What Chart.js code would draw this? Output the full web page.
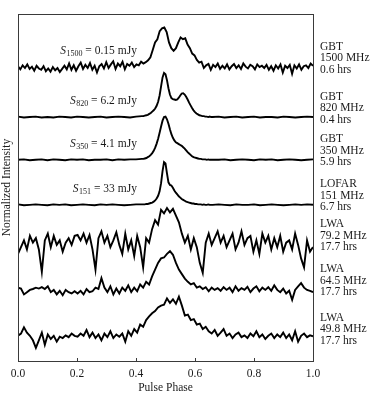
<!DOCTYPE html>
<html>
<head>
<meta charset="utf-8">
<script src="https://cdn.jsdelivr.net/npm/chart.js@4.4.1/dist/chart.umd.min.js"></script>
<style>
html,body{margin:0;padding:0;background:#fff;}
#wrap{width:374px;height:402px;position:relative;}
</style>
</head>
<body>
<div id="wrap"><canvas id="c" width="374" height="402"></canvas></div>
<script>
// ---------- DATA ----------
const telescopes = ['GBT', 'GBT', 'GBT', 'LOFAR', 'LWA', 'LWA', 'LWA'];
const frequencies = ['1500 MHz', '820 MHz', '350 MHz', '151 MHz', '79.2 MHz', '64.5 MHz', '49.8 MHz'];
const durations = ['0.6 hrs', '0.4 hrs', '5.9 hrs', '6.7 hrs', '17.7 hrs', '17.7 hrs', '17.7 hrs'];
const fluxSubscripts = ['1500', '820', '350', '151'];
const fluxValues = ['0.15 mJy', '6.2 mJy', '4.1 mJy', '33 mJy'];
// stacking offset of each profile (normalized intensity units)
const offsets = [6.53, 5.42, 4.47, 3.47, 2.58, 1.58, 0.51];
const xTickValues = [0.0, 0.2, 0.4, 0.6, 0.8, 1.0];

// GBT 1500 MHz (128 bins, evenly spaced in phase)
const gbt1500 = [
 0.02,-0.05,0.04,-0.02,0.06,-0.04,0.01,-0.08,0.03,-0.03,
 -0.06,0.02,-0.09,-0.03,-0.1,0.0,-0.07,-0.02,-0.11,-0.04,
 0.03,-0.05,0.08,-0.06,0.04,-0.08,0.02,0.1,-0.04,0.05,
 -0.02,0.09,-0.06,0.03,-0.12,0.02,0.07,-0.03,0.11,-0.02,
 0.06,0.13,-0.04,0.08,0.02,0.12,-0.05,0.07,0.03,0.1,
 0.0,0.06,0.04,0.12,0.08,0.11,0.15,0.22,
 0.38,0.55,0.62,0.8,0.86,0.88,0.78,0.55,0.42,0.36,
 0.42,0.55,0.66,0.62,0.64,0.5,0.42,0.3,0.26,0.16,
 0.1,0.12,-0.02,0.04,0.07,-0.06,0.05,0.0,0.08,-0.04,
 0.03,-0.03,0.06,-0.05,0.02,0.07,-0.02,0.04,-0.04,0.08,
 0.01,-0.03,0.05,0.02,-0.05,0.06,0.0,0.03,-0.02,0.05,
 -0.06,0.02,-0.08,0.04,-0.03,0.06,-0.12,0.03,-0.02,0.05,
 -0.15,0.04,-0.03,0.06,-0.06,0.02,0.04,-0.02,0.08,0.03
];

// smooth profiles share this phase grid: coarse wings, fine near the pulse
const phaseSmooth = [
 0.00,0.02,0.04,0.06,0.08,0.10,0.12,0.14,0.16,0.18,0.20,0.22,0.24,0.26,0.28,0.30,0.32,0.34,0.36,0.38,0.40,0.42,
 0.425,0.43,0.435,0.44,0.445,0.45,0.455,0.46,0.465,0.47,0.475,0.48,0.485,0.49,0.495,0.50,
 0.505,0.51,0.515,0.52,0.525,0.53,0.535,0.54,0.545,0.55,0.555,0.56,0.565,0.57,0.575,0.58,
 0.585,0.59,0.595,0.60,0.605,0.61,0.615,0.62,0.625,0.63,0.635,0.64,0.645,0.65,0.655,0.66,
 0.68,0.70,0.72,0.74,0.76,0.78,0.80,0.82,0.84,0.86,0.88,0.90,0.92,0.94,0.96,0.98,1.00
];
const gbt820 = [
 0.01,-0.01,0.0,0.01,-0.01,0.0,-0.01,0.01,0.0,-0.01,0.01,0.0,-0.01,0.0,0.01,-0.01,0.0,0.01,0.0,-0.01,0.01,0.02,
 0.02,0.03,0.04,0.05,0.07,0.09,0.12,0.15,0.19,0.25,0.34,0.48,0.68,0.88,0.98,0.95,
 0.82,0.64,0.5,0.42,0.4,0.39,0.38,0.39,0.43,0.48,0.52,0.53,0.5,0.45,0.39,0.32,
 0.26,0.2,0.15,0.11,0.08,0.06,0.04,0.03,0.02,0.02,0.01,0.01,0.0,0.01,0.0,0.0,
 0.01,-0.01,0.0,0.01,-0.01,0.0,0.01,-0.01,0.0,0.0,-0.01,0.01,0.0,-0.01,0.0,0.01,0.0
];
const gbt350 = [
 0.0,0.01,-0.01,0.0,0.01,-0.01,0.01,0.0,-0.01,0.01,0.0,0.01,-0.01,0.0,0.0,0.01,-0.01,0.01,0.0,0.01,0.01,0.02,
 0.02,0.03,0.04,0.06,0.08,0.11,0.15,0.2,0.27,0.36,0.47,0.6,0.74,0.87,0.95,0.96,
 0.9,0.8,0.68,0.57,0.49,0.43,0.39,0.37,0.35,0.33,0.31,0.28,0.25,0.21,0.17,0.14,
 0.11,0.08,0.06,0.05,0.04,0.03,0.02,0.02,0.01,0.01,0.01,0.0,0.01,0.0,0.0,0.0,
 0.0,0.01,-0.01,0.0,0.01,0.0,-0.01,0.01,0.0,0.01,-0.01,0.0,0.01,0.0,-0.01,0.0,0.01
];
const lofar151 = [
 0.01,-0.01,0.0,0.01,0.0,-0.01,0.01,0.0,0.01,-0.01,0.0,0.01,0.0,-0.01,0.01,0.0,0.01,0.0,-0.01,0.0,0.01,0.01,
 0.01,0.01,0.02,0.02,0.03,0.04,0.05,0.07,0.1,0.14,0.2,0.3,0.48,0.75,0.95,0.92,
 0.7,0.5,0.44,0.43,0.38,0.32,0.27,0.23,0.19,0.16,0.13,0.11,0.09,0.07,0.06,0.05,
 0.04,0.03,0.03,0.02,0.02,0.01,0.01,0.01,0.0,0.01,0.0,0.0,0.01,0.0,0.0,0.0,
 0.01,0.0,-0.01,0.01,0.0,0.0,0.01,-0.01,0.0,0.01,0.0,-0.01,0.0,0.01,0.0,0.01,0.0
];

// LWA profiles (100 bins, evenly spaced in phase)
const lwa79 = [
 -0.2,-0.05,0.1,-0.1,0.2,0.05,0.15,-0.1,-0.6,0.1,
 0.25,-0.05,0.2,0.0,0.1,-0.15,0.05,0.15,0.0,0.2,
 0.22,0.1,0.25,0.05,0.22,-0.1,-0.55,0.15,0.3,0.05,
 0.2,-0.05,0.1,0.28,0.0,-0.2,0.25,-0.1,0.1,-0.25,
 0.2,-0.05,-0.5,0.15,0.05,0.35,0.55,0.45,0.78,0.7,
 0.82,0.72,0.8,0.65,0.5,0.25,0.05,0.2,-0.1,0.15,
 -0.05,-0.4,-0.62,0.05,0.25,0.0,0.15,0.3,0.05,0.2,
 -0.05,0.1,0.25,-0.1,0.05,0.3,0.0,0.15,0.2,-0.15,
 0.1,-0.2,0.25,0.05,0.2,-0.1,0.15,-0.05,0.2,-0.15,
 0.05,0.1,-0.1,0.25,0.0,-0.3,-0.5,0.1,-0.15,-0.05
];
const lwa64 = [
 0.05,0.03,-0.1,-0.05,0.0,0.02,0.05,0.03,0.06,0.02,
 0.08,-0.05,0.0,-0.1,-0.02,-0.12,0.0,-0.05,-0.08,-0.03,
 -0.08,-0.02,-0.1,0.02,-0.05,-0.03,0.05,0.02,0.26,0.05,
 -0.05,0.08,-0.1,0.03,-0.08,0.05,-0.02,0.1,-0.05,0.05,
 -0.03,0.12,0.05,0.18,0.12,0.3,0.45,0.6,0.7,0.72,
 0.8,0.86,0.78,0.6,0.45,0.35,0.25,0.18,0.12,0.15,
 0.05,0.08,0.02,0.06,-0.03,0.05,0.0,0.04,-0.02,0.06,
 0.0,0.05,-0.05,0.08,-0.02,0.04,0.0,0.07,-0.05,0.03,
 0.08,-0.03,0.05,0.0,0.06,-0.02,0.1,0.0,-0.05,0.03,
 -0.08,-0.02,-0.22,0.0,0.08,0.15,0.05,0.0,-0.02,-0.05
];
const lwa49 = [
 0.05,0.1,0.24,0.12,0.05,-0.05,-0.22,-0.05,0.12,-0.15,
 0.08,-0.02,0.05,-0.08,0.03,0.0,0.06,0.02,0.1,0.05,
 0.03,0.1,0.05,0.18,0.02,0.12,0.0,0.08,-0.05,0.1,
 0.02,0.15,0.0,0.08,0.03,0.1,-0.08,0.15,0.05,0.2,
 0.12,0.3,0.25,0.4,0.48,0.55,0.6,0.68,0.72,0.74,
 0.88,0.78,0.86,0.76,0.92,0.72,0.5,0.52,0.4,0.42,
 0.3,0.32,0.2,0.25,0.15,0.1,0.18,0.05,0.12,0.2,
 0.05,0.1,0.0,0.08,0.12,0.02,0.06,0.0,0.1,0.04,
 0.15,0.02,0.08,-0.02,0.05,0.1,0.0,0.08,0.02,0.12,
 0.0,0.08,-0.05,0.15,-0.08,0.05,0.1,0.02,0.06,0.04
];

// ---------- BUILD ----------
const evenPhase = arr => arr.map((_, i) => i / (arr.length - 1));
const profiles = [
  {ph: evenPhase(gbt1500), v: gbt1500},
  {ph: phaseSmooth, v: gbt820},
  {ph: phaseSmooth, v: gbt350},
  {ph: phaseSmooth, v: lofar151},
  {ph: evenPhase(lwa79), v: lwa79},
  {ph: evenPhase(lwa64), v: lwa64},
  {ph: evenPhase(lwa49), v: lwa49}
];
const datasets = profiles.map((p, k) => ({
  data: p.v.map((val, i) => ({x: p.ph[i], y: val + offsets[k]})),
  borderColor: '#000',
  borderWidth: 1.9,
  pointRadius: 0,
  tension: 0,
  fill: false
}));

const SERIF = '"Liberation Serif", "DejaVu Serif", serif';
const Y_MAX = 7.71;

const deco = {
  id: 'deco',
  afterDraw(chart) {
    const {ctx, chartArea: a, scales: {x, y}} = chart;
    ctx.save();
    // frame
    ctx.strokeStyle = '#3a3a3a';
    ctx.lineWidth = 1;
    const L = Math.round(a.left) + 0.5, T = Math.round(a.top) + 0.5;
    const R = Math.round(a.right) + 0.5, B = Math.round(a.bottom) + 0.5;
    ctx.strokeRect(L, T, R - L, B - T);
    // inward ticks on the bottom axis
    xTickValues.forEach(v => {
      const px = Math.round(x.getPixelForValue(v)) + 0.5;
      ctx.beginPath(); ctx.moveTo(px, B); ctx.lineTo(px, B - 3.5); ctx.stroke();
    });
    // right-hand labels
    ctx.fillStyle = '#1a1a1a';
    ctx.font = '11.5px ' + SERIF;
    ctx.textAlign = 'left';
    ctx.textBaseline = 'middle';
    offsets.forEach((off, k) => {
      const cy = y.getPixelForValue(off + 0.2);
      const lx = a.right + 7;
      ctx.fillText(telescopes[k], lx, cy - 11.5);
      ctx.fillText(frequencies[k], lx, cy);
      ctx.fillText(durations[k], lx, cy + 11.5);
    });
    // flux density annotations
    fluxSubscripts.forEach((sub, k) => {
      const yMid = y.getPixelForValue(offsets[k] + 0.35);
      const xRight = x.getPixelForValue(0.403);
      const fMain = '11.5px ' + SERIF, fIt = 'italic 11.5px ' + SERIF, fSub = '8px ' + SERIF;
      const rest = ' = ' + fluxValues[k];
      ctx.font = fIt; const wS = ctx.measureText('S').width;
      ctx.font = fSub; const wSub = ctx.measureText(sub).width;
      ctx.font = fMain; const wR = ctx.measureText(rest).width;
      let sx = xRight - (wS + 0.5 + wSub + wR);
      ctx.textAlign = 'left';
      ctx.font = fIt; ctx.fillText('S', sx, yMid); sx += wS + 0.5;
      ctx.font = fSub; ctx.fillText(sub, sx, yMid + 3); sx += wSub;
      ctx.font = fMain; ctx.fillText(rest, sx, yMid);
    });
    ctx.restore();
  }
};

new Chart(document.getElementById('c'), {
  type: 'line',
  data: {datasets},
  options: {
    responsive: false,
    animation: false,
    devicePixelRatio: 1,
    layout: {padding: {top: 14, right: 61, left: 0, bottom: 0}},
    plugins: {legend: {display: false}, tooltip: {enabled: false}},
    scales: {
      x: {
        type: 'linear', min: 0, max: 1,
        afterBuildTicks: s => { s.ticks = xTickValues.map(v => ({value: v})); },
        afterFit: s => { s.height = 41; },
        grid: {display: false, drawTicks: false},
        border: {display: false},
        ticks: {
          padding: 6, color: '#1a1a1a', maxRotation: 0,
          font: {family: SERIF, size: 11.5},
          callback: v => Number(v).toFixed(1)
        },
        title: {display: true, text: 'Pulse Phase', color: '#1a1a1a',
          font: {family: SERIF, size: 11.5}, padding: {top: 0, bottom: 7}}
      },
      y: {
        type: 'linear', min: 0, max: Y_MAX,
        afterFit: s => { s.width = 18; },
        grid: {display: false, drawTicks: false},
        border: {display: false},
        ticks: {display: false},
        title: {display: true, text: 'Normalized Intensity', color: '#1a1a1a',
          font: {family: SERIF, size: 11.5}, padding: {top: 0, bottom: 0}}
      }
    }
  },
  plugins: [deco]
});
</script>
</body>
</html>
